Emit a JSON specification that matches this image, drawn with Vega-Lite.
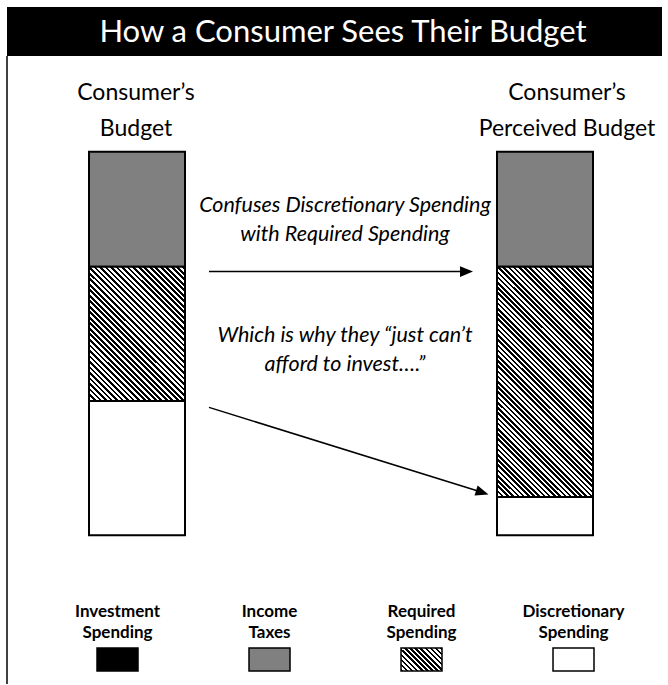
{
"$schema":"https://vega.github.io/schema/vega-lite/v6.json",
"width":668,"height":685,
"autosize":{"type":"fit","contains":"padding"},
"padding":0,
"background":"#ffffff",
"config":{"view":{"stroke":null},"axis":{"disable":true},"legend":{"disable":true},"font":"Lato"},
"resolve":{"scale":{"x":"independent","y":"independent"}},
"layer":[
{
"data":{"values":[
{"budget":"Consumer’s Budget","category":"Income Taxes","share":30,"rank":1},
{"budget":"Consumer’s Budget","category":"Required Spending","share":35,"rank":2},
{"budget":"Consumer’s Budget","category":"Discretionary Spending","share":35,"rank":3},
{"budget":"Consumer’s Perceived Budget","category":"Income Taxes","share":30,"rank":1},
{"budget":"Consumer’s Perceived Budget","category":"Required Spending","share":60,"rank":2},
{"budget":"Consumer’s Perceived Budget","category":"Discretionary Spending","share":10,"rank":3}
]},
"mark":{"type":"bar","stroke":"#000","strokeWidth":2},
"encoding":{
"x":{"field":"budget","type":"nominal","sort":null,"scale":{"paddingInner":0.7647,"paddingOuter":0.201,"align":0.5427}},
"y":{"field":"share","type":"quantitative","stack":"zero","scale":{"domain":[-39.58,138.8],"reverse":true,"nice":false,"zero":false}},
"order":{"field":"rank"},
"fill":{"condition":[
{"test":"datum.category === 'Required Spending' && datum.budget === 'Consumer’s Budget'","value":{"gradient":"linear","x1":0,"y1":1,"x2":0.8108,"y2":-0.1351,"stops":[
{"offset":0,"color":"#000"},
{"offset":0.012,"color":"#000"},{"offset":0.012,"color":"#fff"},
{"offset":0.024,"color":"#fff"},{"offset":0.024,"color":"#000"},
{"offset":0.036,"color":"#000"},{"offset":0.036,"color":"#fff"},
{"offset":0.048,"color":"#fff"},{"offset":0.048,"color":"#000"},
{"offset":0.06,"color":"#000"},{"offset":0.06,"color":"#fff"},
{"offset":0.072,"color":"#fff"},{"offset":0.072,"color":"#000"},
{"offset":0.084,"color":"#000"},{"offset":0.084,"color":"#fff"},
{"offset":0.096,"color":"#fff"},{"offset":0.096,"color":"#000"},
{"offset":0.108,"color":"#000"},{"offset":0.108,"color":"#fff"},
{"offset":0.12,"color":"#fff"},{"offset":0.12,"color":"#000"},
{"offset":0.132,"color":"#000"},{"offset":0.132,"color":"#fff"},
{"offset":0.144,"color":"#fff"},{"offset":0.144,"color":"#000"},
{"offset":0.156,"color":"#000"},{"offset":0.156,"color":"#fff"},
{"offset":0.168,"color":"#fff"},{"offset":0.168,"color":"#000"},
{"offset":0.18,"color":"#000"},{"offset":0.18,"color":"#fff"},
{"offset":0.192,"color":"#fff"},{"offset":0.192,"color":"#000"},
{"offset":0.204,"color":"#000"},{"offset":0.204,"color":"#fff"},
{"offset":0.216,"color":"#fff"},{"offset":0.216,"color":"#000"},
{"offset":0.228,"color":"#000"},{"offset":0.228,"color":"#fff"},
{"offset":0.24,"color":"#fff"},{"offset":0.24,"color":"#000"},
{"offset":0.252,"color":"#000"},{"offset":0.252,"color":"#fff"},
{"offset":0.264,"color":"#fff"},{"offset":0.264,"color":"#000"},
{"offset":0.276,"color":"#000"},{"offset":0.276,"color":"#fff"},
{"offset":0.288,"color":"#fff"},{"offset":0.288,"color":"#000"},
{"offset":0.3,"color":"#000"},{"offset":0.3,"color":"#fff"},
{"offset":0.312,"color":"#fff"},{"offset":0.312,"color":"#000"},
{"offset":0.324,"color":"#000"},{"offset":0.324,"color":"#fff"},
{"offset":0.336,"color":"#fff"},{"offset":0.336,"color":"#000"},
{"offset":0.348,"color":"#000"},{"offset":0.348,"color":"#fff"},
{"offset":0.36,"color":"#fff"},{"offset":0.36,"color":"#000"},
{"offset":0.372,"color":"#000"},{"offset":0.372,"color":"#fff"},
{"offset":0.384,"color":"#fff"},{"offset":0.384,"color":"#000"},
{"offset":0.396,"color":"#000"},{"offset":0.396,"color":"#fff"},
{"offset":0.408,"color":"#fff"},{"offset":0.408,"color":"#000"},
{"offset":0.42,"color":"#000"},{"offset":0.42,"color":"#fff"},
{"offset":0.432,"color":"#fff"},{"offset":0.432,"color":"#000"},
{"offset":0.444,"color":"#000"},{"offset":0.444,"color":"#fff"},
{"offset":0.456,"color":"#fff"},{"offset":0.456,"color":"#000"},
{"offset":0.468,"color":"#000"},{"offset":0.468,"color":"#fff"},
{"offset":0.48,"color":"#fff"},{"offset":0.48,"color":"#000"},
{"offset":0.492,"color":"#000"},{"offset":0.492,"color":"#fff"},
{"offset":0.504,"color":"#fff"},{"offset":0.504,"color":"#000"},
{"offset":0.516,"color":"#000"},{"offset":0.516,"color":"#fff"},
{"offset":0.528,"color":"#fff"},{"offset":0.528,"color":"#000"},
{"offset":0.54,"color":"#000"},{"offset":0.54,"color":"#fff"},
{"offset":0.552,"color":"#fff"},{"offset":0.552,"color":"#000"},
{"offset":0.564,"color":"#000"},{"offset":0.564,"color":"#fff"},
{"offset":0.576,"color":"#fff"},{"offset":0.576,"color":"#000"},
{"offset":0.588,"color":"#000"},{"offset":0.588,"color":"#fff"},
{"offset":0.6,"color":"#fff"},{"offset":0.6,"color":"#000"},
{"offset":0.612,"color":"#000"},{"offset":0.612,"color":"#fff"},
{"offset":0.624,"color":"#fff"},{"offset":0.624,"color":"#000"},
{"offset":0.636,"color":"#000"},{"offset":0.636,"color":"#fff"},
{"offset":0.648,"color":"#fff"},{"offset":0.648,"color":"#000"},
{"offset":0.66,"color":"#000"},{"offset":0.66,"color":"#fff"},
{"offset":0.672,"color":"#fff"},{"offset":0.672,"color":"#000"},
{"offset":0.684,"color":"#000"},{"offset":0.684,"color":"#fff"},
{"offset":0.696,"color":"#fff"},{"offset":0.696,"color":"#000"},
{"offset":0.708,"color":"#000"},{"offset":0.708,"color":"#fff"},
{"offset":0.72,"color":"#fff"},{"offset":0.72,"color":"#000"},
{"offset":0.732,"color":"#000"},{"offset":0.732,"color":"#fff"},
{"offset":0.744,"color":"#fff"},{"offset":0.744,"color":"#000"},
{"offset":0.756,"color":"#000"},{"offset":0.756,"color":"#fff"},
{"offset":0.768,"color":"#fff"},{"offset":0.768,"color":"#000"},
{"offset":0.78,"color":"#000"},{"offset":0.78,"color":"#fff"},
{"offset":0.792,"color":"#fff"},{"offset":0.792,"color":"#000"},
{"offset":0.804,"color":"#000"},{"offset":0.804,"color":"#fff"},
{"offset":0.816,"color":"#fff"},{"offset":0.816,"color":"#000"},
{"offset":0.828,"color":"#000"},{"offset":0.828,"color":"#fff"},
{"offset":0.84,"color":"#fff"},{"offset":0.84,"color":"#000"},
{"offset":0.852,"color":"#000"},{"offset":0.852,"color":"#fff"},
{"offset":0.864,"color":"#fff"},{"offset":0.864,"color":"#000"},
{"offset":0.876,"color":"#000"},{"offset":0.876,"color":"#fff"},
{"offset":0.888,"color":"#fff"},{"offset":0.888,"color":"#000"},
{"offset":0.9,"color":"#000"},{"offset":0.9,"color":"#fff"},
{"offset":0.912,"color":"#fff"},{"offset":0.912,"color":"#000"},
{"offset":0.924,"color":"#000"},{"offset":0.924,"color":"#fff"},
{"offset":0.936,"color":"#fff"},{"offset":0.936,"color":"#000"},
{"offset":0.948,"color":"#000"},{"offset":0.948,"color":"#fff"},
{"offset":0.96,"color":"#fff"},{"offset":0.96,"color":"#000"},
{"offset":0.972,"color":"#000"},{"offset":0.972,"color":"#fff"},
{"offset":0.984,"color":"#fff"},{"offset":0.984,"color":"#000"},
{"offset":0.996,"color":"#000"},{"offset":0.996,"color":"#fff"}
]}},
{"test":"datum.category === 'Required Spending'","value":{"gradient":"linear","x1":0,"y1":1,"x2":0.503,"y2":-0.2071,"stops":[
{"offset":0,"color":"#000"},
{"offset":0.008,"color":"#000"},{"offset":0.008,"color":"#fff"},
{"offset":0.016,"color":"#fff"},{"offset":0.016,"color":"#000"},
{"offset":0.024,"color":"#000"},{"offset":0.024,"color":"#fff"},
{"offset":0.032,"color":"#fff"},{"offset":0.032,"color":"#000"},
{"offset":0.04,"color":"#000"},{"offset":0.04,"color":"#fff"},
{"offset":0.048,"color":"#fff"},{"offset":0.048,"color":"#000"},
{"offset":0.056,"color":"#000"},{"offset":0.056,"color":"#fff"},
{"offset":0.064,"color":"#fff"},{"offset":0.064,"color":"#000"},
{"offset":0.072,"color":"#000"},{"offset":0.072,"color":"#fff"},
{"offset":0.08,"color":"#fff"},{"offset":0.08,"color":"#000"},
{"offset":0.088,"color":"#000"},{"offset":0.088,"color":"#fff"},
{"offset":0.096,"color":"#fff"},{"offset":0.096,"color":"#000"},
{"offset":0.104,"color":"#000"},{"offset":0.104,"color":"#fff"},
{"offset":0.112,"color":"#fff"},{"offset":0.112,"color":"#000"},
{"offset":0.12,"color":"#000"},{"offset":0.12,"color":"#fff"},
{"offset":0.128,"color":"#fff"},{"offset":0.128,"color":"#000"},
{"offset":0.136,"color":"#000"},{"offset":0.136,"color":"#fff"},
{"offset":0.144,"color":"#fff"},{"offset":0.144,"color":"#000"},
{"offset":0.152,"color":"#000"},{"offset":0.152,"color":"#fff"},
{"offset":0.16,"color":"#fff"},{"offset":0.16,"color":"#000"},
{"offset":0.168,"color":"#000"},{"offset":0.168,"color":"#fff"},
{"offset":0.176,"color":"#fff"},{"offset":0.176,"color":"#000"},
{"offset":0.184,"color":"#000"},{"offset":0.184,"color":"#fff"},
{"offset":0.192,"color":"#fff"},{"offset":0.192,"color":"#000"},
{"offset":0.2,"color":"#000"},{"offset":0.2,"color":"#fff"},
{"offset":0.208,"color":"#fff"},{"offset":0.208,"color":"#000"},
{"offset":0.216,"color":"#000"},{"offset":0.216,"color":"#fff"},
{"offset":0.224,"color":"#fff"},{"offset":0.224,"color":"#000"},
{"offset":0.232,"color":"#000"},{"offset":0.232,"color":"#fff"},
{"offset":0.24,"color":"#fff"},{"offset":0.24,"color":"#000"},
{"offset":0.248,"color":"#000"},{"offset":0.248,"color":"#fff"},
{"offset":0.256,"color":"#fff"},{"offset":0.256,"color":"#000"},
{"offset":0.264,"color":"#000"},{"offset":0.264,"color":"#fff"},
{"offset":0.272,"color":"#fff"},{"offset":0.272,"color":"#000"},
{"offset":0.28,"color":"#000"},{"offset":0.28,"color":"#fff"},
{"offset":0.288,"color":"#fff"},{"offset":0.288,"color":"#000"},
{"offset":0.296,"color":"#000"},{"offset":0.296,"color":"#fff"},
{"offset":0.304,"color":"#fff"},{"offset":0.304,"color":"#000"},
{"offset":0.312,"color":"#000"},{"offset":0.312,"color":"#fff"},
{"offset":0.32,"color":"#fff"},{"offset":0.32,"color":"#000"},
{"offset":0.328,"color":"#000"},{"offset":0.328,"color":"#fff"},
{"offset":0.336,"color":"#fff"},{"offset":0.336,"color":"#000"},
{"offset":0.344,"color":"#000"},{"offset":0.344,"color":"#fff"},
{"offset":0.352,"color":"#fff"},{"offset":0.352,"color":"#000"},
{"offset":0.36,"color":"#000"},{"offset":0.36,"color":"#fff"},
{"offset":0.368,"color":"#fff"},{"offset":0.368,"color":"#000"},
{"offset":0.376,"color":"#000"},{"offset":0.376,"color":"#fff"},
{"offset":0.384,"color":"#fff"},{"offset":0.384,"color":"#000"},
{"offset":0.392,"color":"#000"},{"offset":0.392,"color":"#fff"},
{"offset":0.4,"color":"#fff"},{"offset":0.4,"color":"#000"},
{"offset":0.408,"color":"#000"},{"offset":0.408,"color":"#fff"},
{"offset":0.416,"color":"#fff"},{"offset":0.416,"color":"#000"},
{"offset":0.424,"color":"#000"},{"offset":0.424,"color":"#fff"},
{"offset":0.432,"color":"#fff"},{"offset":0.432,"color":"#000"},
{"offset":0.44,"color":"#000"},{"offset":0.44,"color":"#fff"},
{"offset":0.448,"color":"#fff"},{"offset":0.448,"color":"#000"},
{"offset":0.456,"color":"#000"},{"offset":0.456,"color":"#fff"},
{"offset":0.464,"color":"#fff"},{"offset":0.464,"color":"#000"},
{"offset":0.472,"color":"#000"},{"offset":0.472,"color":"#fff"},
{"offset":0.48,"color":"#fff"},{"offset":0.48,"color":"#000"},
{"offset":0.488,"color":"#000"},{"offset":0.488,"color":"#fff"},
{"offset":0.496,"color":"#fff"},{"offset":0.496,"color":"#000"},
{"offset":0.504,"color":"#000"},{"offset":0.504,"color":"#fff"},
{"offset":0.512,"color":"#fff"},{"offset":0.512,"color":"#000"},
{"offset":0.52,"color":"#000"},{"offset":0.52,"color":"#fff"},
{"offset":0.528,"color":"#fff"},{"offset":0.528,"color":"#000"},
{"offset":0.536,"color":"#000"},{"offset":0.536,"color":"#fff"},
{"offset":0.544,"color":"#fff"},{"offset":0.544,"color":"#000"},
{"offset":0.552,"color":"#000"},{"offset":0.552,"color":"#fff"},
{"offset":0.56,"color":"#fff"},{"offset":0.56,"color":"#000"},
{"offset":0.568,"color":"#000"},{"offset":0.568,"color":"#fff"},
{"offset":0.576,"color":"#fff"},{"offset":0.576,"color":"#000"},
{"offset":0.584,"color":"#000"},{"offset":0.584,"color":"#fff"},
{"offset":0.592,"color":"#fff"},{"offset":0.592,"color":"#000"},
{"offset":0.6,"color":"#000"},{"offset":0.6,"color":"#fff"},
{"offset":0.608,"color":"#fff"},{"offset":0.608,"color":"#000"},
{"offset":0.616,"color":"#000"},{"offset":0.616,"color":"#fff"},
{"offset":0.624,"color":"#fff"},{"offset":0.624,"color":"#000"},
{"offset":0.632,"color":"#000"},{"offset":0.632,"color":"#fff"},
{"offset":0.64,"color":"#fff"},{"offset":0.64,"color":"#000"},
{"offset":0.648,"color":"#000"},{"offset":0.648,"color":"#fff"},
{"offset":0.656,"color":"#fff"},{"offset":0.656,"color":"#000"},
{"offset":0.664,"color":"#000"},{"offset":0.664,"color":"#fff"},
{"offset":0.672,"color":"#fff"},{"offset":0.672,"color":"#000"},
{"offset":0.68,"color":"#000"},{"offset":0.68,"color":"#fff"},
{"offset":0.688,"color":"#fff"},{"offset":0.688,"color":"#000"},
{"offset":0.696,"color":"#000"},{"offset":0.696,"color":"#fff"},
{"offset":0.704,"color":"#fff"},{"offset":0.704,"color":"#000"},
{"offset":0.712,"color":"#000"},{"offset":0.712,"color":"#fff"},
{"offset":0.72,"color":"#fff"},{"offset":0.72,"color":"#000"},
{"offset":0.728,"color":"#000"},{"offset":0.728,"color":"#fff"},
{"offset":0.736,"color":"#fff"},{"offset":0.736,"color":"#000"},
{"offset":0.744,"color":"#000"},{"offset":0.744,"color":"#fff"},
{"offset":0.752,"color":"#fff"},{"offset":0.752,"color":"#000"},
{"offset":0.76,"color":"#000"},{"offset":0.76,"color":"#fff"},
{"offset":0.768,"color":"#fff"},{"offset":0.768,"color":"#000"},
{"offset":0.776,"color":"#000"},{"offset":0.776,"color":"#fff"},
{"offset":0.784,"color":"#fff"},{"offset":0.784,"color":"#000"},
{"offset":0.792,"color":"#000"},{"offset":0.792,"color":"#fff"},
{"offset":0.8,"color":"#fff"},{"offset":0.8,"color":"#000"},
{"offset":0.808,"color":"#000"},{"offset":0.808,"color":"#fff"},
{"offset":0.816,"color":"#fff"},{"offset":0.816,"color":"#000"},
{"offset":0.824,"color":"#000"},{"offset":0.824,"color":"#fff"},
{"offset":0.832,"color":"#fff"},{"offset":0.832,"color":"#000"},
{"offset":0.84,"color":"#000"},{"offset":0.84,"color":"#fff"},
{"offset":0.848,"color":"#fff"},{"offset":0.848,"color":"#000"},
{"offset":0.856,"color":"#000"},{"offset":0.856,"color":"#fff"},
{"offset":0.864,"color":"#fff"},{"offset":0.864,"color":"#000"},
{"offset":0.872,"color":"#000"},{"offset":0.872,"color":"#fff"},
{"offset":0.88,"color":"#fff"},{"offset":0.88,"color":"#000"},
{"offset":0.888,"color":"#000"},{"offset":0.888,"color":"#fff"},
{"offset":0.896,"color":"#fff"},{"offset":0.896,"color":"#000"},
{"offset":0.904,"color":"#000"},{"offset":0.904,"color":"#fff"},
{"offset":0.912,"color":"#fff"},{"offset":0.912,"color":"#000"},
{"offset":0.92,"color":"#000"},{"offset":0.92,"color":"#fff"},
{"offset":0.928,"color":"#fff"},{"offset":0.928,"color":"#000"},
{"offset":0.936,"color":"#000"},{"offset":0.936,"color":"#fff"},
{"offset":0.944,"color":"#fff"},{"offset":0.944,"color":"#000"},
{"offset":0.952,"color":"#000"},{"offset":0.952,"color":"#fff"},
{"offset":0.96,"color":"#fff"},{"offset":0.96,"color":"#000"},
{"offset":0.968,"color":"#000"},{"offset":0.968,"color":"#fff"},
{"offset":0.976,"color":"#fff"},{"offset":0.976,"color":"#000"},
{"offset":0.984,"color":"#000"},{"offset":0.984,"color":"#fff"},
{"offset":0.992,"color":"#fff"},{"offset":0.992,"color":"#000"}
]}}
],
"field":"category","type":"nominal",
"scale":{"domain":["Investment Spending","Income Taxes","Required Spending","Discretionary Spending"],"range":["#000000","#808080","#ffffff","#ffffff"]},
"legend":null}
}
},
{
"data":{"values":[
{"category":"Investment Spending"},
{"category":"Income Taxes"},
{"category":"Required Spending"},
{"category":"Discretionary Spending"}
]},
"encoding":{"x":{"field":"category","type":"nominal","sort":null,"scale":{"paddingInner":0.7303,"paddingOuter":0.5625,"align":0.5673}}},
"layer":[
{"mark":{"type":"rect","stroke":"#000","strokeWidth":1.5},
"encoding":{
"y":{"datum":649,"type":"quantitative","scale":{"domain":[0,685],"reverse":true,"nice":false,"zero":false}},
"y2":{"datum":672},
"fill":{"condition":{"test":"datum.category === 'Required Spending'","value":{"gradient":"linear","x1":0,"y1":1,"x2":1.1873,"y2":0.3339,"stops":[
{"offset":0,"color":"#000"},
{"offset":0.04,"color":"#000"},{"offset":0.04,"color":"#fff"},
{"offset":0.08,"color":"#fff"},{"offset":0.08,"color":"#000"},
{"offset":0.12,"color":"#000"},{"offset":0.12,"color":"#fff"},
{"offset":0.16,"color":"#fff"},{"offset":0.16,"color":"#000"},
{"offset":0.2,"color":"#000"},{"offset":0.2,"color":"#fff"},
{"offset":0.24,"color":"#fff"},{"offset":0.24,"color":"#000"},
{"offset":0.28,"color":"#000"},{"offset":0.28,"color":"#fff"},
{"offset":0.32,"color":"#fff"},{"offset":0.32,"color":"#000"},
{"offset":0.36,"color":"#000"},{"offset":0.36,"color":"#fff"},
{"offset":0.4,"color":"#fff"},{"offset":0.4,"color":"#000"},
{"offset":0.44,"color":"#000"},{"offset":0.44,"color":"#fff"},
{"offset":0.48,"color":"#fff"},{"offset":0.48,"color":"#000"},
{"offset":0.52,"color":"#000"},{"offset":0.52,"color":"#fff"},
{"offset":0.56,"color":"#fff"},{"offset":0.56,"color":"#000"},
{"offset":0.6,"color":"#000"},{"offset":0.6,"color":"#fff"},
{"offset":0.64,"color":"#fff"},{"offset":0.64,"color":"#000"},
{"offset":0.68,"color":"#000"},{"offset":0.68,"color":"#fff"},
{"offset":0.72,"color":"#fff"},{"offset":0.72,"color":"#000"},
{"offset":0.76,"color":"#000"},{"offset":0.76,"color":"#fff"},
{"offset":0.8,"color":"#fff"},{"offset":0.8,"color":"#000"},
{"offset":0.84,"color":"#000"},{"offset":0.84,"color":"#fff"},
{"offset":0.88,"color":"#fff"},{"offset":0.88,"color":"#000"},
{"offset":0.92,"color":"#000"},{"offset":0.92,"color":"#fff"},
{"offset":0.96,"color":"#fff"},{"offset":0.96,"color":"#000"}
]}},
"field":"category","type":"nominal",
"scale":{"domain":["Investment Spending","Income Taxes","Required Spending","Discretionary Spending"],"range":["#000000","#808080","#ffffff","#ffffff"]},
"legend":null}
}},
{"mark":{"type":"text","fontWeight":"bold","fontSize":17,"letterSpacing":1,"lineBreak":" ","lineHeight":21,"baseline":"middle","align":"center"},
"encoding":{
"y":{"datum":613,"type":"quantitative","scale":{"domain":[0,685],"reverse":true,"nice":false,"zero":false}},
"text":{"field":"category"}
}}
]
},
{
"layer":[
{"data":{"values":[{"title":"How a Consumer Sees Their Budget"}]},
"layer":[
{"mark":{"type":"rect","fill":"#000"},
"encoding":{
"x":{"datum":7,"type":"quantitative","scale":{"domain":[0,668],"nice":false,"zero":false}},
"x2":{"datum":662},
"y":{"datum":7,"type":"quantitative","scale":{"domain":[0,685],"reverse":true,"nice":false,"zero":false}},
"y2":{"datum":56}}},
{"mark":{"type":"text","fill":"#fff","fontSize":31,"baseline":"middle","align":"center"},
"encoding":{
"x":{"datum":343,"type":"quantitative","scale":{"domain":[0,668],"nice":false,"zero":false}},
"y":{"datum":33,"type":"quantitative","scale":{"domain":[0,685],"reverse":true,"nice":false,"zero":false}},
"text":{"field":"title"}}}
]},
{"data":{"values":[{"part":"frame"}]},
"mark":{"type":"rule","stroke":"#000","strokeWidth":1.5},
"encoding":{
"x":{"datum":7,"type":"quantitative","scale":{"domain":[0,668],"nice":false,"zero":false}},
"y":{"datum":56,"type":"quantitative","scale":{"domain":[0,685],"reverse":true,"nice":false,"zero":false}},
"y2":{"datum":685}}},
{"data":{"values":[{"label":"Consumer’s\nBudget"}]},
"mark":{"type":"text","fontSize":23,"lineBreak":"\n","lineHeight":36,"baseline":"middle","align":"center","fill":"#000"},
"encoding":{
"x":{"datum":136,"type":"quantitative","scale":{"domain":[0,668],"nice":false,"zero":false}},
"y":{"datum":93,"type":"quantitative","scale":{"domain":[0,685],"reverse":true,"nice":false,"zero":false}},
"text":{"field":"label"}}},
{"data":{"values":[{"label":"Consumer’s\nPerceived Budget"}]},
"mark":{"type":"text","fontSize":23,"lineBreak":"\n","lineHeight":36,"baseline":"middle","align":"center","fill":"#000"},
"encoding":{
"x":{"datum":567,"type":"quantitative","scale":{"domain":[0,668],"nice":false,"zero":false}},
"y":{"datum":93,"type":"quantitative","scale":{"domain":[0,685],"reverse":true,"nice":false,"zero":false}},
"text":{"field":"label"}}},
{"data":{"values":[{"note":"Confuses Discretionary Spending\nwith Required Spending"}]},
"mark":{"type":"text","fontSize":21.5,"fontStyle":"italic","lineBreak":"\n","lineHeight":29,"baseline":"middle","align":"center","fill":"#000"},
"encoding":{
"x":{"datum":345,"type":"quantitative","scale":{"domain":[0,668],"nice":false,"zero":false}},
"y":{"datum":206,"type":"quantitative","scale":{"domain":[0,685],"reverse":true,"nice":false,"zero":false}},
"text":{"field":"note"}}},
{"data":{"values":[{"note":"Which is why they “just can’t\nafford to invest….”"}]},
"mark":{"type":"text","fontSize":21.5,"fontStyle":"italic","lineBreak":"\n","lineHeight":29,"baseline":"middle","align":"center","fill":"#000"},
"encoding":{
"x":{"datum":345,"type":"quantitative","scale":{"domain":[0,668],"nice":false,"zero":false}},
"y":{"datum":336,"type":"quantitative","scale":{"domain":[0,685],"reverse":true,"nice":false,"zero":false}},
"text":{"field":"note"}}},
{"data":{"values":[{"arrow":"confuses"}]},
"layer":[
{"mark":{"type":"rule","stroke":"#000","strokeWidth":1.5},
"encoding":{
"x":{"datum":209,"type":"quantitative","scale":{"domain":[0,668],"nice":false,"zero":false}},
"x2":{"datum":466},
"y":{"datum":272,"type":"quantitative","scale":{"domain":[0,685],"reverse":true,"nice":false,"zero":false}},
"y2":{"datum":272}}},
{"mark":{"type":"point","filled":true,"fill":"#000","opacity":1,"strokeWidth":0,"size":169,"shape":"M1,0L-1,-0.82L-1,0.82Z"},
"encoding":{
"x":{"datum":466.5,"type":"quantitative","scale":{"domain":[0,668],"nice":false,"zero":false}},
"y":{"datum":272,"type":"quantitative","scale":{"domain":[0,685],"reverse":true,"nice":false,"zero":false}}}}
]},
{"data":{"values":[{"arrow":"cannot invest"}]},
"layer":[
{"mark":{"type":"rule","stroke":"#000","strokeWidth":1.5},
"encoding":{
"x":{"datum":209,"type":"quantitative","scale":{"domain":[0,668],"nice":false,"zero":false}},
"x2":{"datum":482},
"y":{"datum":408,"type":"quantitative","scale":{"domain":[0,685],"reverse":true,"nice":false,"zero":false}},
"y2":{"datum":493}}},
{"mark":{"type":"point","filled":true,"fill":"#000","opacity":1,"strokeWidth":0,"size":169,"shape":"M1,0L-1,-0.82L-1,0.82Z","angle":17.4},
"encoding":{
"x":{"datum":482.3,"type":"quantitative","scale":{"domain":[0,668],"nice":false,"zero":false}},
"y":{"datum":493.2,"type":"quantitative","scale":{"domain":[0,685],"reverse":true,"nice":false,"zero":false}}}}
]}
]
}
]
}
